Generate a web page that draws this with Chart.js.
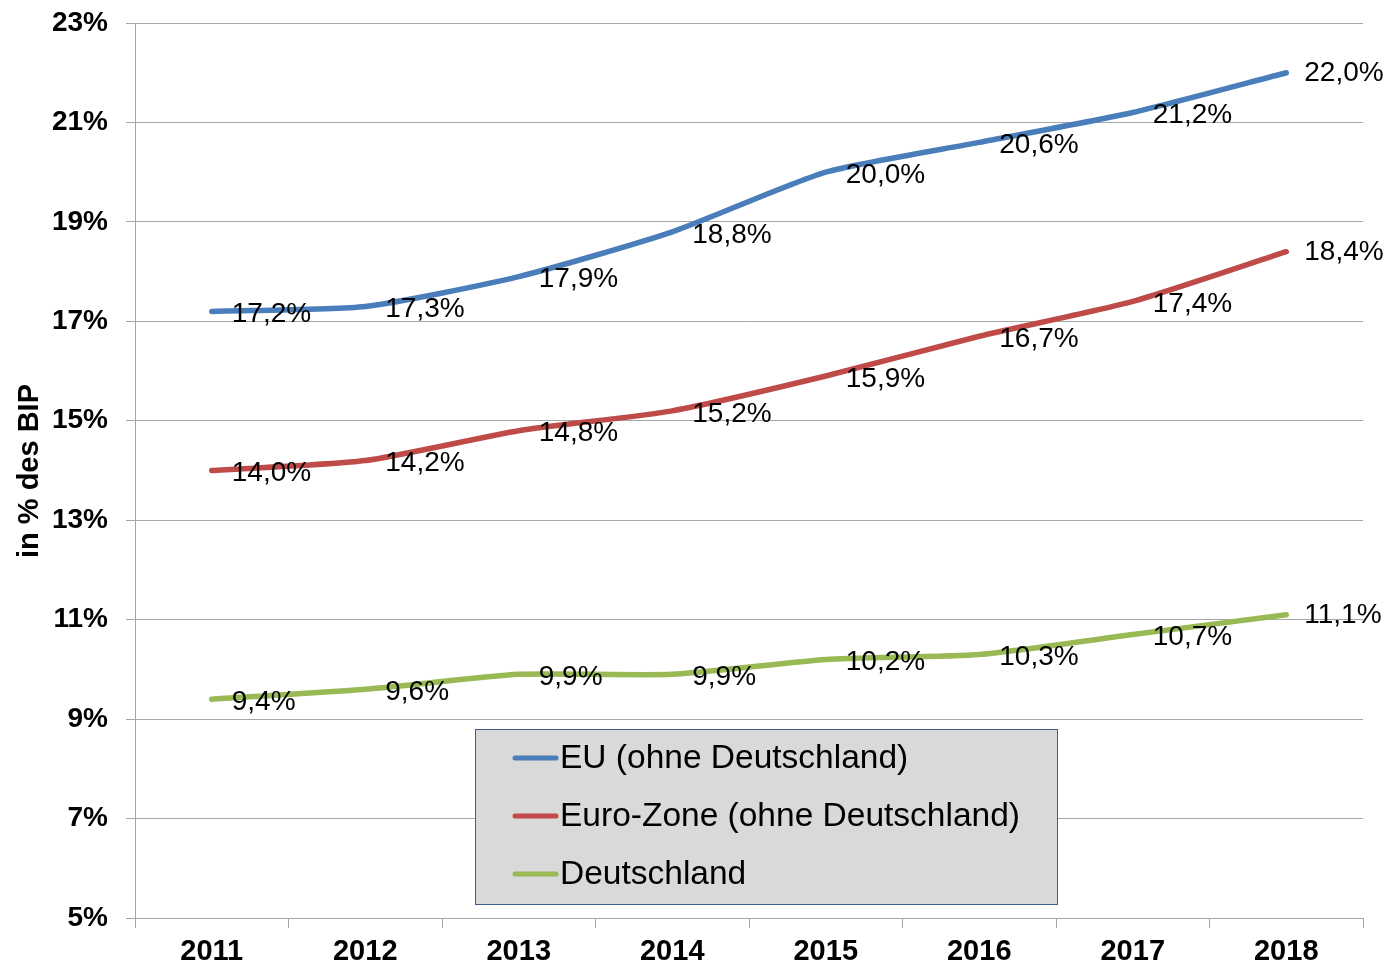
<!DOCTYPE html>
<html><head><meta charset="utf-8">
<script src="https://cdn.jsdelivr.net/npm/chart.js@4/dist/chart.umd.min.js"></script>
<style>html,body{margin:0;padding:0;background:#fff}#wrap{width:1392px;height:970px}</style>
</head><body><div id="wrap"><canvas id="c" width="1392" height="970"></canvas></div>
<script>
const years = ['2011','2012','2013','2014','2015','2016','2017','2018'];
const euValues = [17.2,17.3,17.9,18.8,20.0,20.6,21.2,22.0];
const euroZoneValues = [14.0,14.2,14.8,15.2,15.9,16.7,17.4,18.4];
const deValues = [9.4,9.6,9.9,9.9,10.2,10.3,10.7,11.1];
const seriesNames = ['EU (ohne Deutschland)','Euro-Zone (ohne Deutschland)','Deutschland'];
const seriesColors = ['#4a7ebb','#be4b48','#98b954'];
const yTitle = 'in % des BIP';
const FONT = '"Liberation Sans", Arial, sans-serif';
const fmt = v => v.toFixed(1).replace('.', ',') + '%';

const labelPlugin = {
  id: 'labels',
  afterDatasetsDraw(chart) {
    const ctx = chart.ctx;
    ctx.save();
    ctx.font = '28px ' + FONT;
    ctx.fillStyle = '#000';
    ctx.textAlign = 'left';
    ctx.textBaseline = 'middle';
    chart.data.datasets.forEach((ds, i) => {
      const meta = chart.getDatasetMeta(i);
      meta.data.forEach((pt, j) => {
        const last = j === meta.data.length - 1;
        ctx.fillText(fmt(ds.data[j]), pt.x + (last ? 18 : 20), pt.y + (last ? 1 : 3));
      });
    });
    ctx.restore();
  }
};

const legendPlugin = {
  id: 'boxLegend',
  beforeDatasetsDraw(chart) {
    const ctx = chart.ctx;
    ctx.save();
    ctx.fillStyle = '#d9d9d9';
    ctx.fillRect(475, 729, 582, 175);
    ctx.strokeStyle = '#3c5f8f';
    ctx.lineWidth = 1;
    ctx.strokeRect(475.5, 729.5, 582, 175);
    ctx.font = '33.5px ' + FONT;
    ctx.textBaseline = 'middle';
    ctx.textAlign = 'left';
    chart.data.datasets.forEach((ds, i) => {
      const y = 758 + i * 58;
      ctx.strokeStyle = ds.borderColor;
      ctx.lineWidth = 5;
      ctx.lineCap = 'round';
      ctx.beginPath(); ctx.moveTo(515, y); ctx.lineTo(556, y); ctx.stroke();
      ctx.fillStyle = '#000';
      ctx.fillText(ds.label, 560, y + 1);
    });
    ctx.restore();
  },
  afterDraw(chart) {
    const ctx = chart.ctx;
    ctx.save();
    ctx.translate(30, 471);
    ctx.rotate(-Math.PI / 2);
    ctx.font = 'bold 29px ' + FONT;
    ctx.fillStyle = '#000';
    ctx.textAlign = 'center';
    ctx.textBaseline = 'middle';
    ctx.fillText(yTitle, 0, 0);
    ctx.restore();
  }
};

const valueSets = [euValues, euroZoneValues, deValues];
new Chart(document.getElementById('c'), {
  type: 'line',
  data: {
    labels: years,
    datasets: valueSets.map((v, i) => ({
      label: seriesNames[i], data: v, borderColor: seriesColors[i], backgroundColor: seriesColors[i],
      borderWidth: 5.5, pointRadius: 0, tension: 0.2, fill: false,
      borderCapStyle: 'round'
    }))
  },
  options: {
    responsive: false, animation: false,
    layout: { padding: { top: 23, right: 29, left: 0, bottom: 0 } },
    plugins: { legend: { display: false }, tooltip: { enabled: false } },
    scales: {
      x: {
        offset: true,
        grid: { offset: true, drawOnChartArea: false, color: '#a6a6a6', tickLength: 10 },
        border: { color: '#a6a6a6' },
        ticks: { font: { family: FONT, size: 29, weight: 'bold' }, color: '#000', padding: 7, maxRotation: 0 },
        afterFit(s) { s.height = 52; s.paddingLeft = 0; s.paddingRight = 0; }
      },
      y: {
        min: 5, max: 23,
        grid: { color: '#a6a6a6', tickLength: 9 },
        border: { color: '#a6a6a6' },
        ticks: { stepSize: 2, font: { family: FONT, size: 28, weight: 'bold' }, color: '#000', padding: 18,
          callback: v => v + '%' },
        afterFit(s) { s.width = 135; s.paddingTop = 0; s.paddingBottom = 0; }
      }
    }
  },
  plugins: [labelPlugin, legendPlugin]
});
</script></body></html>
